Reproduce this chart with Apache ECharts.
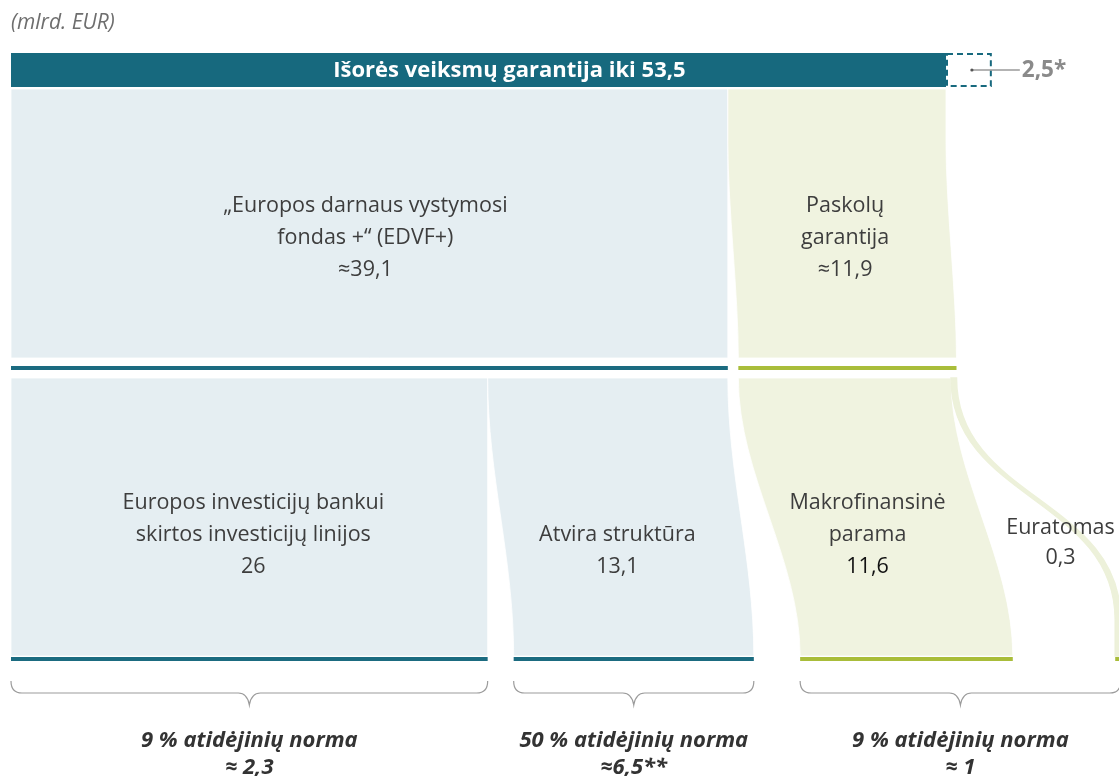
<!DOCTYPE html>
<html>
<head>
<meta charset="utf-8">
<script src="https://cdn.jsdelivr.net/npm/echarts@6/dist/echarts.min.js"></script>
<style>
html,body{margin:0;padding:0;background:#fff;}
#main{width:1119px;height:776px;}
</style>
</head>
<body>
<div id="main"></div>
<script>
// ---------------- DATA ----------------
const unitNote = '(mlrd. EUR)';
const totalLabel = 'Išorės veiksmų garantija iki 53,5';
const totalValue = 53.5;
const extraValue = 2.5;
const extraLabel = '2,5*';

const upperNames = ['„Europos darnaus vystymosi\nfondas +“ (EDVF+)', 'Paskolų\ngarantija'];
const upperValues = [39.1, 11.9];
const upperValueLabels = ['≈39,1', '≈11,9'];

const lowerNames = ['Europos investicijų bankui\nskirtos investicijų linijos', 'Atvira struktūra', 'Makrofinansinė\nparama', 'Euratomas'];
const lowerValues = [26, 13.1, 11.6, 0.3];
const lowerValueLabels = ['26', '13,1', '11,6', '0,3'];
const lowerParent = [0, 0, 1, 1];

const groupRates = ['9 % atidėjinių norma', '50 % atidėjinių norma', '9 % atidėjinių norma'];
const groupProvisions = ['≈ 2,3', '≈6,5**', '≈ 1'];
const groupMembers = [[0], [1], [2, 3]];

// ---------------- LAYOUT / STYLE ----------------
const L = {
  barTop: 53, barBottom: 87,
  upTop: 89, upBottom: 358, midLine: 368,
  lowTop: 378, lowBottom: 656, botLine: 659, lineW: 4,
  upShift: [0, 10.5],
  lowShift: [0, 26, 72.3, 174.7],
  upCurve: [null, {s: 0.2, e: 1, k: 0.3}],
  lowCurve: [null, {s: 0, e: 1, k: 0.35}, {s: 0, e: 1, k: 0.35}, {s: 0, e: 0.87, k: 0.5}],
  upLabelFrac: [0, 0.78], lowLabelFrac: [0, 0.37, 0.37, 0.65],
  upLabelDx: [-4, 0], lowLabelDx: [4, 0, 0, 0],
  upLabelY: 270, lowLabelY: 567, euraLabelY: 558, lh: 32,
  braceTop: 681, braceMid: 693, braceTip: 705,
  rateY: 741, provY: 768
};
const C = {
  teal: '#17697e', tealLine: '#1b6b80', blue: '#e5eef2', green: '#f0f3e0', greenLine: '#a9bd3a',
  text: '#3d3d3d', grey: '#8a8a8a', brace: '#9c9c9c'
};
const FONT = '"Open Sans", sans-serif';
const FS = 21.5;
const upperColors = [[C.blue, C.tealLine], [C.green, C.greenLine]];

function sum(a, n) { let s = 0; for (let i = 0; i < n; i++) s += a[i]; return s; }

const chart = echarts.init(document.getElementById('main'), null, {renderer: 'canvas'});

function bandPath(xl0, xr0, xl1, xr1, y0, y1, c) {
  if (!c) return `M${xl0},${y0} L${xl1},${y1} L${xr1},${y1} L${xr0},${y0} Z`;
  const ya = y0 + (y1 - y0) * c.s, yb = y0 + (y1 - y0) * c.e, hc = yb - ya, k = c.k;
  return `M${xl0},${y0} L${xl0},${ya} C${xl0},${ya + k * hc} ${xl1},${yb - k * hc} ${xl1},${yb} L${xl1},${y1} ` +
    `L${xr1},${y1} L${xr1},${yb} C${xr1},${yb - k * hc} ${xr0},${ya + k * hc} ${xr0},${ya} L${xr0},${y0} Z`;
}

function textEl(x, y, txt, opt) {
  return {type: 'text', x: x, y: y, silent: true,
    style: Object.assign({text: txt, fill: C.text, fontSize: FS, fontFamily: FONT, align: 'center', verticalAlign: 'middle'}, opt || {})};
}
function lineLabels(cx, yLast, name, val, valFill) {
  const lines = name.split('\n');
  const els = [];
  const n = lines.length + 1;
  lines.forEach((t, i) => els.push(textEl(cx, yLast - (n - 1 - i) * L.lh, t)));
  els.push(textEl(cx, yLast, val, valFill ? {fill: valFill} : {}));
  return els;
}

function geom(api) {
  const X = v => api.coord([v, 0])[0];
  const up = upperValues.map((v, i) => {
    const s = sum(upperValues, i);
    return {x0: X(s), x1: X(s + v), b0: X(s) + L.upShift[i], b1: X(s + v) + L.upShift[i]};
  });
  const low = lowerValues.map((v, j) => {
    const p = lowerParent[j];
    let s = sum(upperValues, p);
    for (let q = 0; q < j; q++) if (lowerParent[q] === p) s += lowerValues[q];
    return {x0: X(s) + L.upShift[p], x1: X(s + v) + L.upShift[p], b0: X(s) + L.lowShift[j], b1: X(s + v) + L.lowShift[j]};
  });
  return {X, up, low};
}

const option = {
  animation: false,
  grid: {left: 11, right: 0, top: 0, bottom: 0},
  xAxis: {type: 'value', min: 0, max: 1108 * 51 / 935, show: false},
  yAxis: {type: 'value', min: 0, max: 1, show: false},
  series: [
    {
      type: 'custom', coordinateSystem: 'cartesian2d', data: [[totalValue, 0]], silent: true,
      renderItem: function (params, api) {
        const X = v => api.coord([v, 0])[0];
        const solid = totalValue - extraValue;
        const x0 = X(0), xs = X(solid), xe = X(totalValue);
        const ym = (L.barTop + L.barBottom) / 2;
        return {type: 'group', children: [
          {type: 'rect', shape: {x: x0, y: L.barTop, width: xs - x0, height: L.barBottom - L.barTop}, style: {fill: C.teal}},
          {type: 'rect', shape: {x: xs + 1, y: L.barTop + 1, width: xe - xs - 2, height: L.barBottom - L.barTop - 2},
            style: {fill: 'none', stroke: C.teal, lineWidth: 2, lineDash: [6, 4]}},
          {type: 'line', shape: {x1: (xs + xe) / 2 + 3, y1: ym, x2: xe + 28, y2: ym}, style: {stroke: '#9a9a9a', lineWidth: 1.3}},
          {type: 'circle', shape: {cx: (xs + xe) / 2 + 3, cy: ym, r: 1.6}, style: {fill: '#555'}},
          textEl(xe + 30, ym + 1, extraLabel, {align: 'left', fontWeight: 'bold', fill: C.grey, fontSize: 22.5}),
          textEl(X(totalValue / 2) + 8, ym + 1, totalLabel, {fontWeight: 'bold', fill: '#fff', fontSize: 22}),
          textEl(x0, 23, unitNote, {align: 'left', fontStyle: 'italic', fill: '#6e6e6e', fontSize: 21})
        ]};
      }
    },
    {
      type: 'custom', coordinateSystem: 'cartesian2d', data: upperValues.map((v, i) => [i, 0]), silent: true,
      renderItem: function (params, api) {
        const i = params.dataIndex, g = geom(api), u = g.up[i];
        const ch = [
          {type: 'path', shape: {pathData: bandPath(u.x0, u.x1, u.b0, u.b1, L.upTop, L.upBottom, L.upCurve[i])},
            style: {fill: upperColors[i][0], stroke: '#fff', lineWidth: 0.8}},
          {type: 'rect', shape: {x: u.b0, y: L.midLine - L.lineW / 2, width: u.b1 - u.b0, height: L.lineW}, style: {fill: upperColors[i][1]}}
        ];
        const f = L.upLabelFrac[i];
        const cx = ((u.x0 + u.x1) / 2) * (1 - f) + ((u.b0 + u.b1) / 2) * f + L.upLabelDx[i];
        return {type: 'group', children: ch.concat(lineLabels(cx, L.upLabelY, upperNames[i], upperValueLabels[i]))};
      }
    },
    {
      type: 'custom', coordinateSystem: 'cartesian2d', data: lowerValues.map((v, j) => [j, 0]), silent: true,
      renderItem: function (params, api) {
        const j = params.dataIndex, g = geom(api), u = g.low[j];
        const col = upperColors[lowerParent[j]];
        const thin = lowerValues[j] < 1;
        const ch = [
          {type: 'path', shape: {pathData: bandPath(u.x0, u.x1, u.b0, u.b1, L.lowTop, L.lowBottom, L.lowCurve[j])},
            style: thin ? {fill: '#edf1da', stroke: '#edf1da', lineWidth: 1.5} : {fill: col[0], stroke: '#fff', lineWidth: 0.8}},
          {type: 'rect', shape: {x: u.b0, y: L.botLine - L.lineW / 2, width: u.b1 - u.b0, height: L.lineW}, style: {fill: col[1]}}
        ];
        const f = L.lowLabelFrac[j];
        const cx = ((u.x0 + u.x1) / 2) * (1 - f) + ((u.b0 + u.b1) / 2) * f + L.lowLabelDx[j];
        const yl = thin ? L.euraLabelY : L.lowLabelY;
        let labs;
        if (thin) {
          labs = [textEl(cx, yl - 30, lowerNames[j]), textEl(cx, yl, lowerValueLabels[j])];
        } else {
          labs = lineLabels(cx, yl, lowerNames[j], lowerValueLabels[j], j === 2 ? '#111' : null);
        }
        return {type: 'group', children: ch.concat(labs)};
      }
    },
    {
      type: 'custom', coordinateSystem: 'cartesian2d', data: groupRates.map((r, k) => [k, 0]), silent: true,
      renderItem: function (params, api) {
        const k = params.dataIndex, g = geom(api);
        const mem = groupMembers[k];
        const x0 = g.low[mem[0]].b0, x1 = g.low[mem[mem.length - 1]].b1;
        const cx = (x0 + x1) / 2, t = L.braceTop, m = L.braceMid, p = L.braceTip, r = 11;
        const d = `M${x0},${t} Q${x0},${m} ${x0 + r},${m} L${cx - r},${m} Q${cx - 2},${m} ${cx},${p} ` +
          `Q${cx + 2},${m} ${cx + r},${m} L${x1 - r},${m} Q${x1},${m} ${x1},${t}`;
        return {type: 'group', children: [
          {type: 'path', shape: {pathData: d}, style: {fill: 'none', stroke: C.brace, lineWidth: 1.2}},
          textEl(cx, L.rateY, groupRates[k], {fontWeight: 'bold', fontStyle: 'italic', fill: '#333', fontSize: 22}),
          textEl(cx, L.provY, groupProvisions[k], {fontWeight: 'bold', fontStyle: 'italic', fill: '#333', fontSize: 22})
        ]};
      }
    }
  ]
};
chart.setOption(option);
</script>
</body>
</html>
